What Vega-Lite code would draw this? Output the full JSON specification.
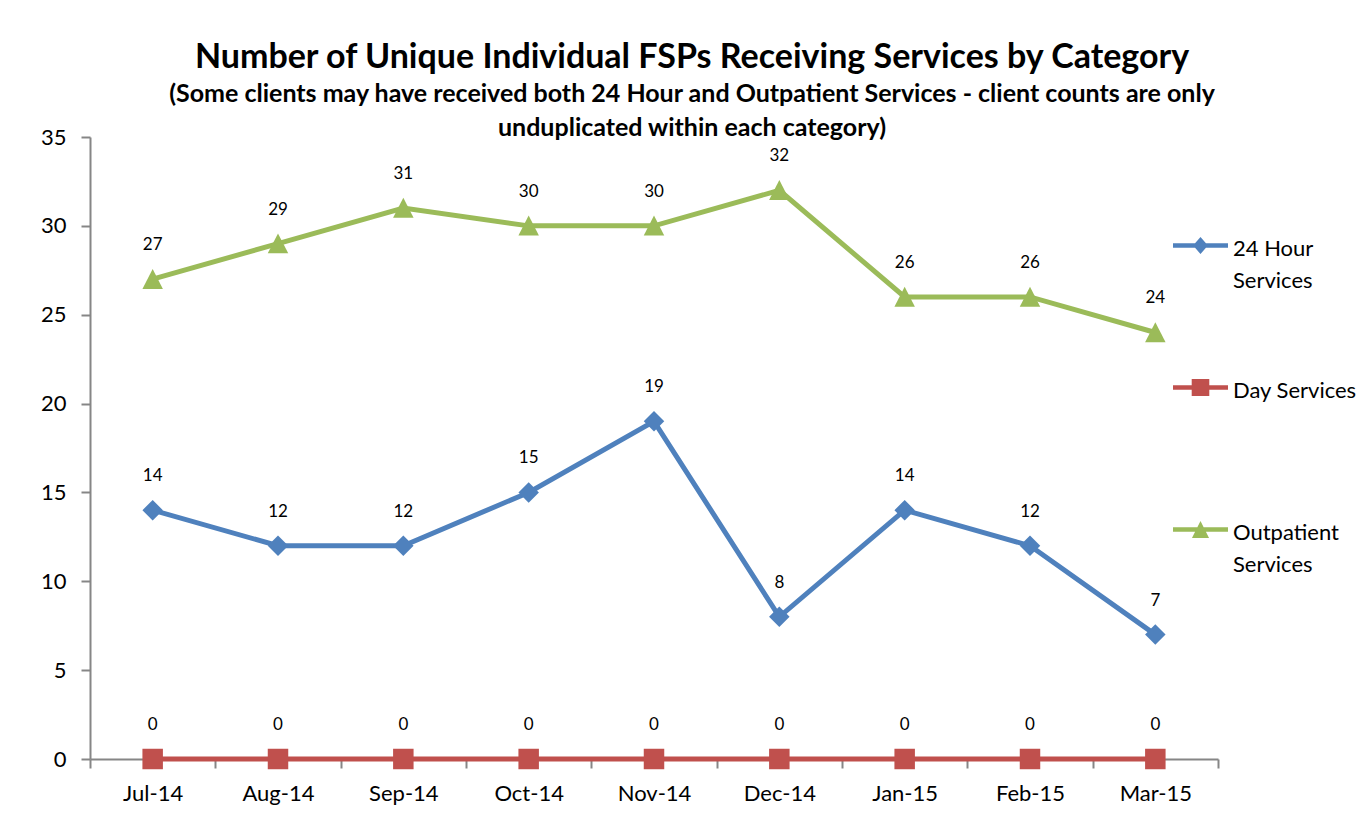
{
  "$schema": "https://vega.github.io/schema/vega-lite/v6.json",
  "width": 1128,
  "height": 622,
  "padding": {"left": 40, "top": 41, "right": 0, "bottom": 5},
  "background": "white",
  "config": {
    "view": {"stroke": null},
    "font": "Lato",
    "axis": {"labelFont": "Lato", "labelColor": "black", "domainColor": "#868686", "domainWidth": 2, "tickColor": "#868686", "tickWidth": 2, "tickSize": 9, "grid": false, "title": null}
  },
  "title": {
    "text": "Number of Unique Individual FSPs Receiving Services by Category",
    "subtitle": ["(Some clients may have received both 24 Hour and Outpatient Services - client counts are only", "unduplicated within each category)"],
    "font": "Lato",
    "fontSize": 34,
    "fontWeight": "bold",
    "color": "black",
    "subtitleFont": "Lato",
    "subtitleFontSize": 25,
    "subtitleFontWeight": "bold",
    "subtitleColor": "black",
    "subtitleLineHeight": 34,
    "subtitlePadding": 7,
    "anchor": "middle",
    "frame": "group",
    "dx": 38,
    "offset": -15
  },
  "data": {
    "values": [
      {"month": "Jul-14", "series": "24 Hour Services", "value": 14},
      {"month": "Aug-14", "series": "24 Hour Services", "value": 12},
      {"month": "Sep-14", "series": "24 Hour Services", "value": 12},
      {"month": "Oct-14", "series": "24 Hour Services", "value": 15},
      {"month": "Nov-14", "series": "24 Hour Services", "value": 19},
      {"month": "Dec-14", "series": "24 Hour Services", "value": 8},
      {"month": "Jan-15", "series": "24 Hour Services", "value": 14},
      {"month": "Feb-15", "series": "24 Hour Services", "value": 12},
      {"month": "Mar-15", "series": "24 Hour Services", "value": 7},
      {"month": "Jul-14", "series": "Day Services", "value": 0},
      {"month": "Aug-14", "series": "Day Services", "value": 0},
      {"month": "Sep-14", "series": "Day Services", "value": 0},
      {"month": "Oct-14", "series": "Day Services", "value": 0},
      {"month": "Nov-14", "series": "Day Services", "value": 0},
      {"month": "Dec-14", "series": "Day Services", "value": 0},
      {"month": "Jan-15", "series": "Day Services", "value": 0},
      {"month": "Feb-15", "series": "Day Services", "value": 0},
      {"month": "Mar-15", "series": "Day Services", "value": 0},
      {"month": "Jul-14", "series": "Outpatient Services", "value": 27},
      {"month": "Aug-14", "series": "Outpatient Services", "value": 29},
      {"month": "Sep-14", "series": "Outpatient Services", "value": 31},
      {"month": "Oct-14", "series": "Outpatient Services", "value": 30},
      {"month": "Nov-14", "series": "Outpatient Services", "value": 30},
      {"month": "Dec-14", "series": "Outpatient Services", "value": 32},
      {"month": "Jan-15", "series": "Outpatient Services", "value": 26},
      {"month": "Feb-15", "series": "Outpatient Services", "value": 26},
      {"month": "Mar-15", "series": "Outpatient Services", "value": 24}
    ]
  },
  "encoding": {
    "x": {
      "field": "month",
      "type": "ordinal",
      "sort": ["Jul-14", "Aug-14", "Sep-14", "Oct-14", "Nov-14", "Dec-14", "Jan-15", "Feb-15", "Mar-15"],
      "scale": {"type": "band", "paddingInner": 0, "paddingOuter": 0},
      "bandPosition": 0.5,
      "axis": {"labelAngle": 0, "labelFontSize": 22, "tickBand": "extent", "labelPadding": 15}
    },
    "y": {
      "field": "value",
      "type": "quantitative",
      "scale": {"domain": [0, 35], "nice": false},
      "axis": {"values": [0, 5, 10, 15, 20, 25, 30, 35], "labelFontSize": 22, "labelPadding": 15}
    },
    "color": {
      "field": "series",
      "type": "nominal",
      "scale": {"domain": ["24 Hour Services", "Day Services", "Outpatient Services"], "range": ["#4F81BD", "#C0504D", "#9BBB59"]},
      "legend": {
        "title": null,
        "orient": "none",
        "legendX": 1083,
        "legendY": 81,
        "padding": 0,
        "symbolSize": 3025,
        "symbolStrokeWidth": 0,
        "symbolOpacity": 1,
        "labelFont": "Lato",
        "labelFontSize": 22,
        "labelColor": "black",
        "labelBaseline": "top",
        "labelLineHeight": 32,
        "labelOffset": 5,
        "labelLimit": 400,
        "rowPadding": 68,
        "labelExpr": "datum.label == '24 Hour Services' ? ['24 Hour', 'Services'] : datum.label == 'Outpatient Services' ? ['Outpatient', 'Services'] : [datum.label, ' ']",
        "encode": {
          "symbols": {
            "update": {
              "shape": {"signal": "datum.value == '24 Hour Services' ? 'M-1,-0.08H1V0.08H-1Z M0,-0.31L0.27,0L0,0.31L-0.27,0Z' : datum.value == 'Day Services' ? 'M-1,-0.08H1V0.08H-1Z M-0.32,-0.31H0.32V0.31H-0.32Z' : 'M-1,-0.08H1V0.08H-1Z M0,-0.31L0.31,0.31L-0.31,0.31Z'"},
              "fill": {"signal": "scale('color', datum.value)"},
              "stroke": {"value": "transparent"},
              "strokeWidth": {"value": 0},
              "opacity": {"value": 1}
            }
          },
          "labels": {
            "update": {"dy": {"value": -7}, "lineHeight": {"value": 32}}
          }
        }
      }
    }
  },
  "layer": [
    {
      "mark": {"type": "line", "strokeWidth": 5}
    },
    {
      "transform": [{"filter": "datum.series == '24 Hour Services'"}],
      "mark": {"type": "point", "filled": true, "opacity": 1, "size": 420, "shape": "diamond"}
    },
    {
      "transform": [{"filter": "datum.series == 'Day Services'"}],
      "mark": {"type": "point", "filled": true, "opacity": 1, "size": 420, "shape": "square"}
    },
    {
      "transform": [{"filter": "datum.series == 'Outpatient Services'"}],
      "mark": {"type": "point", "filled": true, "opacity": 1, "size": 420, "shape": "M0,-1L1,0.95L-1,0.95Z"}
    },
    {
      "mark": {"type": "text", "dy": -34, "fontSize": 17, "font": "Lato", "color": "black"},
      "encoding": {
        "text": {"field": "value", "type": "quantitative"},
        "color": {"value": "black"}
      }
    }
  ]
}
